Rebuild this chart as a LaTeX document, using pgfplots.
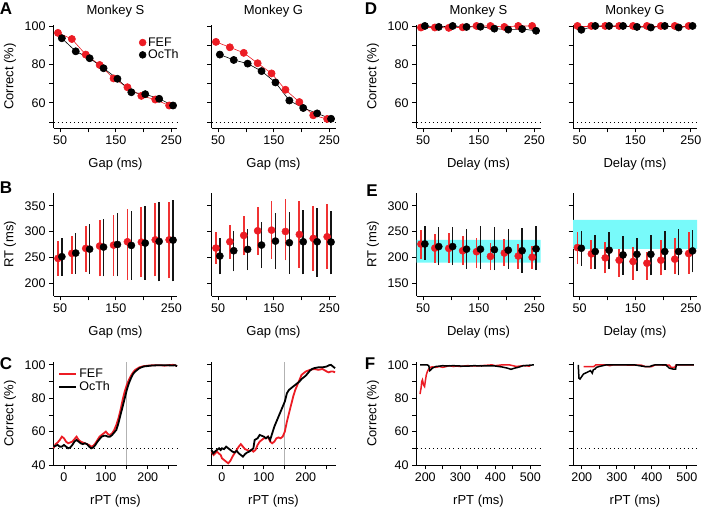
\documentclass[border=0pt]{standalone}
\usepackage{pgfplots}
\pgfplotsset{compat=1.18}
\usepackage{fontspec}
\setmainfont{Liberation Sans}
\definecolor{fef}{RGB}{236,28,36}
\definecolor{fefbar}{RGB}{240,50,50}
\definecolor{ocbar}{RGB}{20,20,20}
\definecolor{band}{RGB}{120,250,250}
\pgfplotsset{
  rs/.style={
    scale only axis, width=124pt, height=103pt,
    axis lines=left, axis line style={-, line width=0.8pt},
    tick align=outside, major tick length=4.5pt,
    tick style={line width=0.8pt, black},
    /pgf/number format/assume math mode=true,
    tick label style={font=\fontsize{12.5}{14}\selectfont},
    every axis y label/.style={at={(axis description cs:-0.35,0.5)}, rotate=90, anchor=center, font=\fontsize{13}{15}\selectfont},
    every axis x label/.style={at={(axis description cs:0.5,0)}, anchor=center, yshift=-36pt, font=\fontsize{13}{15}\selectfont},
    every axis title/.style={at={(axis description cs:0.5,1)}, anchor=center, yshift=13.5pt, font=\fontsize{13}{15}\selectfont},
    clip=false, unbounded coords=jump,
  },
  gap/.style={rs, xmin=38, xmax=261, xtick={50,100,150,200,250}, xticklabels={50,,150,,250}},
  pc/.style={ymin=46.9, ymax=100.5, ytick={50,60,70,80,90,100}},
  nolab/.style={yticklabel style={text=white}},
  rpt/.style={rs, ymin=40, ymax=101.7, ytick={40,50,60,70,80,90,100}, xlabel={rPT (ms)}},
  fefl/.style={fef, line width=0.6pt, mark=*, mark size=3.6pt, mark options={solid}},
  ocl/.style={black, line width=0.6pt, mark=*, mark size=3.6pt, mark options={solid}},
  fefm/.style={fef, only marks, mark=*, mark size=3.6pt},
  ocm/.style={black, only marks, mark=*, mark size=3.6pt},
  fefb/.style={fefbar, line width=1.8pt, forget plot},
  ocb/.style={ocbar, line width=1.5pt, forget plot},
  chance/.style={black, line width=0.8pt, dash pattern=on 0.9pt off 3.2pt, forget plot},
}
\begin{document}
\begin{tikzpicture}
\useasboundingbox (0,0) rectangle (702pt,508pt);
% ---------------- Row 1: A ----------------
\begin{axis}[gap, pc, at={(53.5pt,380pt)}, anchor=south west, title={Monkey S}, xlabel={Gap (ms)}, ylabel={Correct (\%)}, yticklabels={,60,,80,,100},
  legend style={at={(axis description cs:0.69,0.90)}, anchor=north west, draw=none, fill=none, font=\fontsize{12.5}{14}\selectfont, row sep=-2pt, inner sep=0pt},
  legend cell align=left,
  legend image code/.code={\draw[#1, mark size=3.4pt] plot coordinates {(0pt,0pt)};}]
\addplot[chance] coordinates {(38,50) (261,50)};
\addplot[fefl] coordinates {(46,96.4) (71,93.2) (96,85.1) (121,79.7) (146,72.7) (171,68.1) (196,63.6) (221,61.7) (246,58.6)};
\addlegendentry{FEF}
\addplot[ocl] coordinates {(53,93.6) (78,86.8) (103,83.2) (128,78.0) (153,72.5) (178,65.5) (203,64.5) (228,62.1) (253,58.6)};
\addlegendentry{OcTh}
\end{axis}
\begin{axis}[gap, pc, nolab, at={(211.5pt,380pt)}, anchor=south west, title={Monkey G}, xlabel={Gap (ms)}]
\addplot[chance] coordinates {(38,50) (261,50)};
\addplot[fefl] coordinates {(46,91.7) (71,88.9) (96,86.0) (121,80.6) (146,75.3) (171,66.8) (196,60.4) (221,53.5) (246,51.6)};
\addplot[ocl] coordinates {(53,85.1) (78,82.3) (103,80.4) (128,76.5) (153,70.6) (178,61.2) (203,57.3) (228,54.5) (253,51.7)};
\end{axis}
% ---------------- Row 1: D ----------------
\begin{axis}[gap, pc, at={(416.5pt,380pt)}, anchor=south west, title={Monkey S}, xlabel={Delay (ms)}, ylabel={Correct (\%)}, yticklabels={,60,,80,,100}]
\addplot[chance] coordinates {(38,50) (261,50)};
\addplot[fefl] coordinates {(46,99.2) (71,99.2) (96,99.0) (121,99.3) (146,100) (171,100) (196,99.5) (221,100) (246,100)};
\addplot[ocl] coordinates {(53,100) (78,99.5) (103,100) (128,99.5) (153,99.6) (178,98.6) (203,98.1) (228,98.4) (253,97.5)};
\end{axis}
\begin{axis}[gap, pc, nolab, at={(573pt,380pt)}, anchor=south west, title={Monkey G}, xlabel={Delay (ms)}]
\addplot[chance] coordinates {(38,50) (261,50)};
\addplot[fefl] coordinates {(46,100) (71,100) (96,100) (121,100) (146,100) (171,100) (196,100) (221,100) (246,100)};
\addplot[ocl] coordinates {(53,98) (78,100) (103,100) (128,100) (153,99.5) (178,99.2) (203,100) (228,99.2) (253,100)};
\end{axis}
% ---------------- Row 2: B ----------------
\begin{axis}[gap, at={(53.5pt,212pt)}, anchor=south west, ymin=175, ymax=375, ytick={200,250,300,350}, xlabel={Gap (ms)}, ylabel={RT (ms)}]
\addplot[fefb] coordinates {(46,214.6) (46,282.2) (46,nan) (71,217.8) (71,291.9) (71,nan) (96,222.3) (96,311) (96,nan) (121,213.3) (121,322.8) (121,nan) (146,214.6) (146,332.4) (146,nan) (171,206.9) (171,344.7) (171,nan) (196,211.4) (196,348.5) (196,nan) (221,213.3) (221,355) (221,nan) (246,209.4) (246,357.5)};
\addplot[ocb] coordinates {(53,214.6) (53,287.3) (53,nan) (78,217.8) (78,297) (78,nan) (103,217.8) (103,314.4) (103,nan) (128,213.3) (128,325.3) (128,nan) (153,213.3) (153,337) (153,nan) (178,206.2) (178,340) (178,nan) (203,206.9) (203,349.8) (203,nan) (228,203.6) (228,357.5) (228,nan) (253,203.6) (253,361.4)};
\addplot[fefm] coordinates {(46,248) (71,257.7) (96,267.4) (121,272) (146,273.8) (171,280.3) (196,279.6) (221,284) (246,284)};
\addplot[ocm] coordinates {(53,251.3) (78,258.4) (103,266) (128,270) (153,275.1) (178,273.2) (203,277.7) (228,281) (253,283.5)};
\end{axis}
\begin{axis}[gap, nolab, at={(211.5pt,212pt)}, anchor=south west, ymin=175, ymax=375, ytick={200,250,300,350}, xlabel={Gap (ms)}]
\addplot[fefb] coordinates {(46,237) (46,299) (46,nan) (71,247) (71,312) (71,nan) (96,254) (96,330) (96,nan) (121,255) (121,347) (121,nan) (146,247) (146,360) (146,nan) (171,244) (171,363) (171,nan) (196,230) (196,359) (196,nan) (221,224) (221,349) (221,nan) (246,227) (246,354)};
\addplot[ocb] coordinates {(53,217) (53,287) (53,nan) (78,223) (78,301) (78,nan) (103,225) (103,305) (103,nan) (128,229) (128,318) (128,nan) (153,227) (153,337) (153,nan) (178,218) (178,338) (178,nan) (203,217) (203,342) (203,nan) (228,212) (228,346) (228,nan) (253,217) (253,341)};
\addplot[fefm] coordinates {(46,268) (71,280.3) (96,292.6) (121,301.6) (146,302.9) (171,300.3) (196,294.5) (221,286.8) (246,290)};
\addplot[ocm] coordinates {(53,252.6) (78,262.9) (103,265.5) (128,273.9) (153,281.6) (178,278.4) (203,280.3) (228,280.3) (253,279.7)};
\end{axis}
% ---------------- Row 2: E ----------------
\begin{axis}[gap, at={(416.5pt,212pt)}, anchor=south west, ymin=125, ymax=325, ytick={150,200,250,300}, xlabel={Delay (ms)}, ylabel={RT (ms)}]
\addplot[fill=band, draw=none, forget plot] coordinates {(38,190) (261,190) (261,234) (38,234) (38,190)};
\addplot[fefb] coordinates {(46,197) (46,254) (46,nan) (71,190) (71,245) (71,nan) (96,190) (96,247) (96,nan) (121,185) (121,241) (121,nan) (146,180) (146,238) (146,nan) (171,175) (171,228) (171,nan) (196,183) (196,235) (196,nan) (221,178) (221,226) (221,nan) (246,178) (246,222)};
\addplot[ocb] coordinates {(53,195) (53,260) (53,nan) (78,185) (78,258) (78,nan) (103,185) (103,258) (103,nan) (128,178) (128,255) (128,nan) (153,178) (153,260) (153,nan) (178,175) (178,258) (178,nan) (203,178) (203,255) (203,nan) (228,170) (228,257) (228,nan) (253,175) (253,260)};
\addplot[fefm] coordinates {(46,225.8) (71,218) (96,217.4) (121,212.9) (146,211) (171,201.9) (196,208.4) (221,202.6) (246,200.3)};
\addplot[ocm] coordinates {(53,226) (78,221) (103,221) (128,216) (153,216) (178,215) (203,214) (228,213) (253,216.5)};
\end{axis}
\begin{axis}[gap, nolab, at={(573pt,212pt)}, anchor=south west, ymin=125, ymax=325, ytick={150,200,250,300}, xlabel={Delay (ms)}]
\addplot[fill=band, draw=none, forget plot] coordinates {(38,216.5) (261,216.5) (261,272.6) (38,272.6) (38,216.5)};
\addplot[fefb] coordinates {(46,187) (46,250) (46,nan) (71,178) (71,234) (71,nan) (96,169) (96,229) (96,nan) (121,162) (121,216) (121,nan) (146,157) (146,220) (146,nan) (171,157) (171,210) (171,nan) (196,165) (196,233) (196,nan) (221,168) (221,238) (221,nan) (246,168) (246,249)};
\addplot[ocb] coordinates {(53,184) (53,252) (53,nan) (78,178) (78,244) (78,nan) (103,178) (103,249) (103,nan) (128,166) (128,242) (128,nan) (153,173) (153,237) (153,nan) (178,165) (178,244) (178,nan) (203,175) (203,251) (203,nan) (228,165) (228,255) (228,nan) (253,171) (253,253)};
\addplot[fefm] coordinates {(46,219) (71,206.8) (96,199) (121,194.5) (146,192) (171,188.7) (196,194.5) (221,196.5) (246,207.4)};
\addplot[ocm] coordinates {(53,217.7) (78,211.3) (103,213.9) (128,204.8) (153,206) (178,206) (203,211.3) (228,211.3) (253,212.6)};
\end{axis}
% ---------------- Row 3: C ----------------
\begin{axis}[rpt, at={(53.5pt,43pt)}, anchor=south west, xmin=-25, xmax=271, xtick={0,50,100,150,200,250}, xticklabels={0,,100,,200,}, yticklabels={40,,60,,80,,100}, ylabel={Correct (\%)},
  legend style={at={(axis description cs:0.035,0.95)}, anchor=north west, draw=none, fill=none, font=\fontsize{12.5}{14}\selectfont, row sep=-2pt, inner sep=0pt},
  legend cell align=left, legend image post style={line width=2.2pt}]
\addplot[chance] coordinates {(-25,50) (271,50)};
\addplot[gray!60, line width=1pt, forget plot] coordinates {(150,40) (150,101.7)};
\addplot[fef, line width=1.8pt] coordinates {(-25,50) (-20,52.5) (-15,53.5) (-10,55) (-5,57) (0,56) (5,54) (10,53) (15,53.5) (20,54) (25,55.5) (30,57) (35,55) (40,54) (45,53.5) (50,53) (55,52.5) (60,52) (65,51) (70,51.5) (75,53) (80,55) (85,57) (90,58) (95,59) (100,60) (105,58.5) (110,58) (115,59) (120,61) (125,64) (130,68) (135,73) (140,79) (145,84) (150,88) (155,91) (160,93.5) (165,95.5) (170,97) (180,98.5) (190,99.2) (200,99.5) (210,99.7) (220,99.8) (230,99.8) (240,99.5) (250,99.8) (260,100) (265,99.7) (270,99.3)};
\addlegendentry{FEF}
\addplot[black, line width=1.8pt] coordinates {(-25,51) (-20,51.5) (-15,52) (-10,51) (-5,51) (0,52) (5,51) (10,50) (15,50.5) (20,52) (25,54) (30,55) (35,54) (40,53) (45,52.5) (50,53) (55,52.5) (60,51) (65,50) (70,50.5) (75,52) (80,54) (85,55.5) (90,57) (95,57.5) (100,57.5) (105,57) (110,57) (115,58) (120,59.5) (125,61) (130,65) (135,70) (140,75) (145,80) (150,85) (155,89) (160,92) (165,94.5) (170,96) (180,98) (190,99) (200,99.3) (210,99.6) (220,99.7) (230,99.8) (240,99.8) (250,99.7) (260,99.6) (265,99.8) (270,99.2)};
\addlegendentry{OcTh}
\end{axis}
\begin{axis}[rpt, nolab, at={(211.5pt,43pt)}, anchor=south west, xmin=-25, xmax=271, xtick={0,50,100,150,200,250}, xticklabels={0,,100,,200,}]
\addplot[chance] coordinates {(-25,50) (271,50)};
\addplot[gray!60, line width=1pt, forget plot] coordinates {(150,40) (150,101.7)};
\addplot[fef, line width=1.8pt] coordinates {(-25,48) (-20,46) (-16,47) (-12,48) (-8,47) (-3,46) (0,44) (5,43) (10,42) (15,41) (20,42.5) (25,45) (30,47) (35,49) (40,51) (45,52.5) (50,51) (55,49.5) (60,49) (65,48.5) (70,49) (75,48) (80,49) (85,52) (90,54) (95,55) (100,56) (105,56) (110,57) (115,54) (120,53) (125,54) (130,56) (135,56.5) (140,56) (145,57) (150,60) (155,66) (160,71) (165,76) (170,81) (175,85) (180,88) (185,91) (190,94) (195,95) (200,96) (205,96.5) (210,97) (220,97.5) (230,97) (240,97.5) (250,96) (255,95.5) (260,96) (265,96) (270,95.5)};
\addplot[black, line width=1.8pt] coordinates {(-25,49) (-21,47) (-17,48) (-12,49) (-7,50) (-3,49) (0,50) (5,49.5) (10,51) (15,50) (20,49) (25,48) (30,47.5) (35,48.5) (40,47) (45,46) (50,45) (55,46.5) (60,47.5) (65,48) (70,49) (75,50) (78,55) (85,56) (90,58) (95,57.5) (100,57) (105,56) (110,57) (115,55) (120,59) (125,63) (130,66) (135,69) (140,72) (145,75) (150,78) (155,83) (160,85) (165,86) (170,87) (175,88) (180,89) (185,90) (190,91.5) (195,92.5) (200,93.5) (205,95) (210,96.5) (215,97.5) (220,98) (230,98.5) (240,98.5) (250,99) (255,99.7) (260,100) (265,99) (270,98)};
\end{axis}
% ---------------- Row 3: F ----------------
\begin{axis}[rpt, at={(416.5pt,43pt)}, anchor=south west, xmin=175, xmax=529, xtick={200,250,300,350,400,450,500}, xticklabels={200,,300,,400,,500}, yticklabels={40,,60,,80,,100}, ylabel={Correct (\%)}]
\addplot[chance] coordinates {(175,50) (529,50)};
\addplot[fef, line width=1.5pt] coordinates {(185,82.5) (188,86) (190,90) (192,91) (195,88) (198,87) (200,90) (203,94) (206,96) (210,97.5) (215,98.5) (220,98.8) (230,98.5) (240,99) (250,98.5) (260,99) (270,99.5) (280,99) (290,99.3) (300,99) (320,99.5) (340,99.3) (360,99.5) (380,99.8) (390,100) (400,99.5) (420,100) (440,100) (460,99) (480,99.5) (500,99.2)};
\addplot[black, line width=1.5pt] coordinates {(185,100) (195,100) (205,100) (210,99.5) (213,96.5) (216,97) (220,98) (230,99) (240,99.2) (250,99.5) (260,99.3) (280,99.5) (300,99.3) (320,99.2) (340,99.5) (360,99.3) (380,99.4) (400,99.3) (420,98.7) (435,98) (445,97.3) (455,98) (465,98.5) (480,99.5) (500,99.8) (510,100)};
\end{axis}
\begin{axis}[rpt, nolab, at={(573pt,43pt)}, anchor=south west, xmin=175, xmax=529, xtick={200,250,300,350,400,450,500}, xticklabels={200,,300,,400,,500}]
\addplot[chance] coordinates {(175,50) (529,50)};
\addplot[fef, line width=1.5pt] coordinates {(205,99) (215,99) (225,99) (235,99) (240,100) (270,100) (280,99.5) (290,100) (370,99.8) (380,99) (400,99) (410,100) (450,99.8) (455,98.5) (465,98.5) (470,100) (520,100)};
\addplot[black, line width=1.5pt] coordinates {(190,100) (192,92) (195,91.5) (200,93) (205,94.5) (210,95) (215,95.5) (220,96) (225,96.5) (230,95) (233,97) (238,97.5) (242,98.5) (250,99) (260,99.5) (270,100) (300,100) (350,100) (370,99.3) (380,99) (395,99) (400,99.5) (410,100) (440,100) (450,98) (460,97.5) (468,97.5) (470,100) (500,100) (520,100)};
\end{axis}
% ---------------- panel letters ----------------
\node[font=\bfseries\fontsize{17}{17}\selectfont] at (6pt,499pt) {A};
\node[font=\bfseries\fontsize{17}{17}\selectfont] at (6pt,320pt) {B};
\node[font=\bfseries\fontsize{17}{17}\selectfont] at (6pt,144pt) {C};
\node[font=\bfseries\fontsize{17}{17}\selectfont] at (371pt,499pt) {D};
\node[font=\bfseries\fontsize{17}{17}\selectfont] at (372pt,317pt) {E};
\node[font=\bfseries\fontsize{17}{17}\selectfont] at (370pt,144pt) {F};
\end{tikzpicture}
\end{document}
